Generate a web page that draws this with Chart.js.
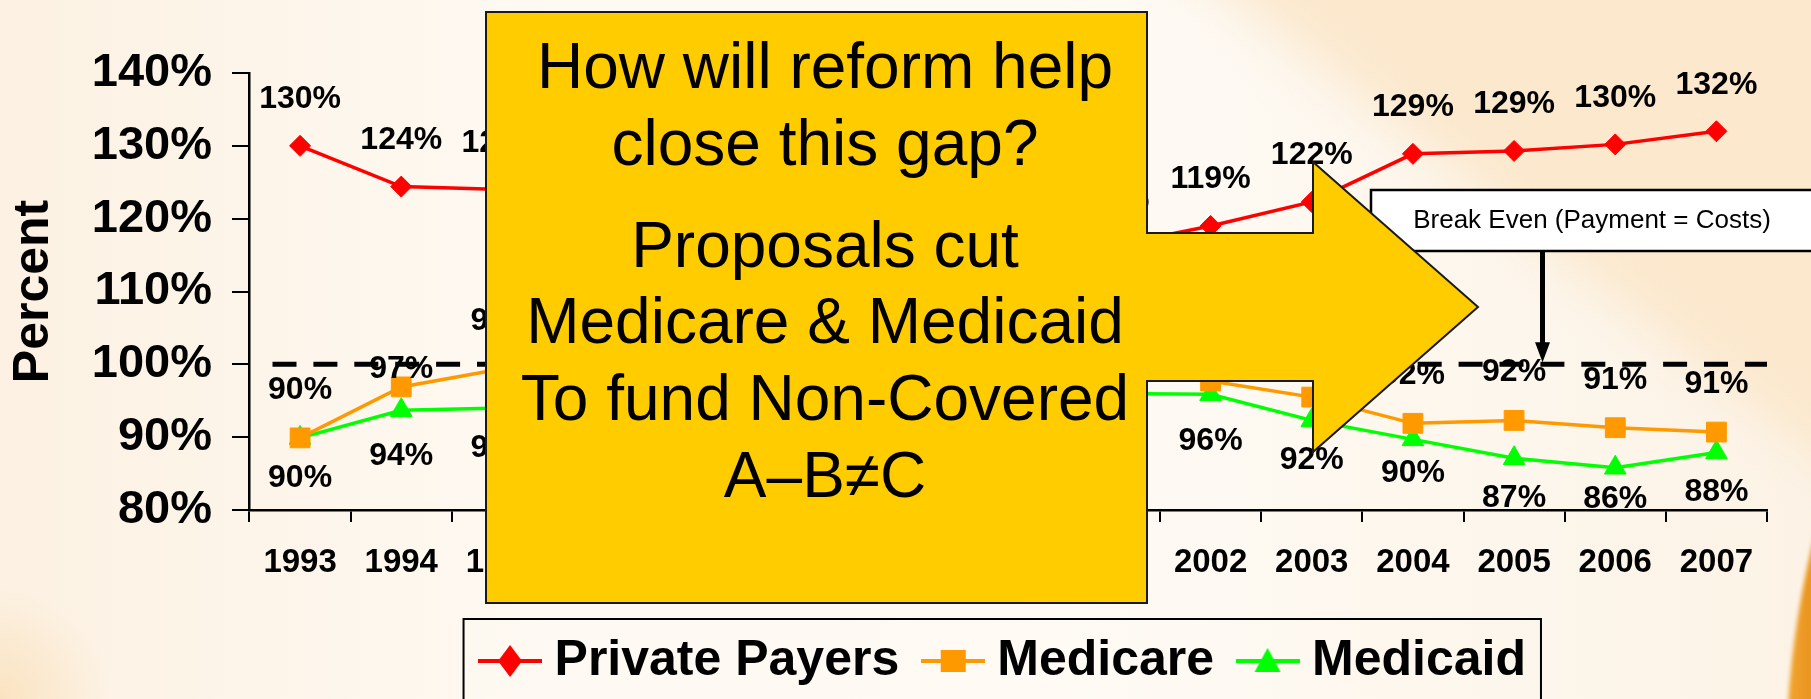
<!DOCTYPE html>
<html>
<head>
<meta charset="utf-8">
<title>Payment-to-cost ratios, 1993–2007</title>
<script src="https://cdn.jsdelivr.net/npm/chart.js@4.4.1/dist/chart.umd.min.js"></script>
<style>
  html, body { margin: 0; padding: 0; background: #fdf6ec; overflow: hidden; }
  canvas { display: block; }
</style>
</head>
<body>
<canvas id="ratios" width="1811" height="699"></canvas>
<script>
/* DATA */
const years = ['1993', '1994', '1995', '1996', '1997', '1998', '1999', '2000',
               '2001', '2002', '2003', '2004', '2005', '2006', '2007'];
const privatePayers = [130.0, 124.4, 124.0, 121.6, 117.5, 115.8, 115.0, 115.7,
                       116.2, 119.0, 122.3, 128.9, 129.3, 130.2, 132.0];
const medicare = [89.9, 96.9, 99.4, 102.4, 103.6, 101.9, 100.0, 99.1,
                  98.6, 97.7, 95.5, 91.9, 92.3, 91.3, 90.7];
const medicaid = [89.9, 93.7, 94.0, 94.8, 95.9, 96.6, 95.7, 94.5,
                  96.0, 95.9, 92.3, 89.7, 87.1, 85.8, 87.9];
const yTicks = [80, 90, 100, 110, 120, 130, 140];
const breakEven = 100;
const breakEvenNote = 'Break Even (Payment = Costs)';
const calloutLines = ['How will reform help', 'close this gap?', 'Proposals cut',
                      'Medicare & Medicaid', 'To fund Non-Covered', 'A\u2013B\u2260C'];

const FONT = '"Liberation Sans", Arial, Helvetica, sans-serif';
Chart.defaults.font.family = FONT;
Chart.defaults.color = '#000';

/* value labels: above for private/medicare, below for medicaid */
const labelOffsets = [-46.5, -48, 40];
const labelNudges = [{}, { '1994': 30 }, { '1994': 6, '2002': 7, '2004': -6, '2006': -9 }];

/* legend swatch = short line with the marker on it */
function legendIcon(color, shape) {
  const c = document.createElement('canvas');
  c.width = 64; c.height = 36;
  const g = c.getContext('2d');
  g.strokeStyle = color; g.fillStyle = color; g.lineWidth = 4;
  g.beginPath(); g.moveTo(0, 18); g.lineTo(64, 18); g.stroke();
  g.beginPath();
  if (shape === 'rectRot') { g.moveTo(32, 2); g.lineTo(44, 18); g.lineTo(32, 34); g.lineTo(20, 18); }
  else if (shape === 'rect') { g.rect(20, 7, 25, 22); }
  else { g.moveTo(32, 5); g.lineTo(45, 29); g.lineTo(19, 29); }
  g.closePath(); g.fill();
  return c;
}

/* BACKGROUND */
const backdrop = {
  id: 'backdrop',
  beforeDraw(chart) {
    const { ctx, width, height } = chart;
    ctx.save();
    const g = ctx.createLinearGradient(0, 0, width, 0);
    g.addColorStop(0, '#fcf1e2');
    g.addColorStop(0.3, '#fef9f2');
    g.addColorStop(0.6, '#fefaf4');
    g.addColorStop(1, '#fcf3e6');
    ctx.fillStyle = g;
    ctx.fillRect(0, 0, width, height);

    // peach wedge top right
    ctx.filter = 'blur(25px)';
    ctx.fillStyle = '#fbe8cd';
    ctx.beginPath();
    ctx.moveTo(1160, -60); ctx.lineTo(width + 60, -60); ctx.lineTo(width + 60, 500);
    ctx.closePath(); ctx.fill();

    // faint warm glow bottom left
    ctx.filter = 'none';
    const r = ctx.createRadialGradient(0, height, 0, 0, height, 110);
    r.addColorStop(0, 'rgba(246,200,130,0.35)');
    r.addColorStop(1, 'rgba(246,200,130,0)');
    ctx.fillStyle = r;
    ctx.fillRect(0, height - 130, 130, 130);

    // orange swoosh on the right edge
    ctx.filter = 'blur(2px)';
    const o = ctx.createLinearGradient(1780, 0, width, 0);
    o.addColorStop(0, '#f4a934');
    o.addColorStop(1, '#e99520');
    ctx.fillStyle = o;
    ctx.beginPath();
    ctx.moveTo(width + 5, 530);
    ctx.quadraticCurveTo(1794, 615, 1788, height + 5);
    ctx.lineTo(width + 5, height + 5);
    ctx.closePath(); ctx.fill();
    ctx.restore();
  }
};

/* DASHED BREAK-EVEN LINE */
const breakEvenLine = {
  id: 'breakEvenLine',
  beforeDatasetsDraw(chart) {
    const { ctx, chartArea } = chart;
    const y = chart.scales.y.getPixelForValue(breakEven);
    ctx.save();
    ctx.beginPath();
    ctx.rect(chartArea.left, 0, chartArea.right - chartArea.left, chart.height);
    ctx.clip();
    ctx.strokeStyle = '#000';
    ctx.lineWidth = 5;
    ctx.setLineDash([24, 16.9]);
    ctx.beginPath();
    ctx.moveTo(chartArea.left + 23, y);
    ctx.lineTo(chartArea.right + 10, y);
    ctx.stroke();
    ctx.restore();
  }
};

/* VALUE LABELS */
const valueLabels = {
  id: 'valueLabels',
  afterDatasetsDraw(chart) {
    const { ctx } = chart;
    ctx.save();
    ctx.font = 'bold 32px ' + FONT;
    ctx.fillStyle = '#000';
    ctx.textAlign = 'center';
    ctx.textBaseline = 'middle';
    chart.data.datasets.forEach((ds, i) => {
      chart.getDatasetMeta(i).data.forEach((pt, j) => {
        const nudge = labelNudges[i][years[j]] || 0;
        ctx.fillText(Math.round(ds.data[j]) + '%', pt.x, pt.y + labelOffsets[i] + nudge);
      });
    });
    ctx.restore();
  }
};

/* CALLOUT, NOTE BOX, LEGEND FRAME */
const overlays = {
  id: 'overlays',
  afterDraw(chart) {
    const { ctx } = chart;
    ctx.save();

    // frame round the legend
    const hb = chart.legend.legendHitBoxes;
    if (hb && hb.length) {
      const last = hb[hb.length - 1];
      const left = hb[0].left - 27, top = hb[0].top - 17;
      const right = last.left + last.width + 15;
      ctx.lineWidth = 2; ctx.strokeStyle = '#000';
      ctx.strokeRect(left, top, right - left, chart.height + 20 - top);
    }

    // break-even note with arrow down to the dashed line
    const y100 = chart.scales.y.getPixelForValue(breakEven);
    ctx.fillStyle = '#fff';
    ctx.fillRect(1371, 190, 460, 61);
    ctx.lineWidth = 2.5; ctx.strokeStyle = '#000';
    ctx.strokeRect(1371, 190, 460, 61);
    ctx.fillStyle = '#000';
    ctx.font = '26px ' + FONT;
    ctx.textAlign = 'center'; ctx.textBaseline = 'middle';
    ctx.fillText(breakEvenNote, 1592, 221);
    ctx.lineWidth = 5;
    ctx.beginPath(); ctx.moveTo(1542.5, 251); ctx.lineTo(1542.5, y100 - 20); ctx.stroke();
    ctx.beginPath();
    ctx.moveTo(1535, y100 - 22); ctx.lineTo(1550, y100 - 22); ctx.lineTo(1542.5, y100 - 2);
    ctx.closePath(); ctx.fill();

    // yellow right-arrow callout
    const L = 486, T = 12, R = 1147, B = 603;
    ctx.beginPath();
    ctx.moveTo(L, T); ctx.lineTo(R, T); ctx.lineTo(R, 233);
    ctx.lineTo(1313, 233); ctx.lineTo(1313, 162); ctx.lineTo(1478, 307);
    ctx.lineTo(1313, 452); ctx.lineTo(1313, 381); ctx.lineTo(R, 381);
    ctx.lineTo(R, B); ctx.lineTo(L, B); ctx.closePath();
    ctx.fillStyle = '#ffcc00'; ctx.fill();
    ctx.lineWidth = 2; ctx.strokeStyle = '#1a1a1a'; ctx.stroke();

    ctx.fillStyle = '#000';
    ctx.font = '64px ' + FONT;
    ctx.textAlign = 'center'; ctx.textBaseline = 'alphabetic';
    const baselines = [88, 165, 267, 343, 420, 497];
    calloutLines.forEach((t, k) => ctx.fillText(t, 825, baselines[k]));
    ctx.restore();
  }
};

/* CHART */
new Chart(document.getElementById('ratios'), {
  type: 'line',
  data: {
    labels: years,
    datasets: [
      { label: 'Private Payers', data: privatePayers, borderColor: '#ff0000', backgroundColor: '#ff0000',
        pointStyle: 'rectRot', pointRadius: 10.5, borderWidth: 3.5, pointBorderWidth: 1, icon: legendIcon('#ff0000', 'rectRot') },
      { label: 'Medicare', data: medicare, borderColor: '#ff9900', backgroundColor: '#ff9900',
        pointStyle: 'rect', pointRadius: 14, borderWidth: 3.5, pointBorderWidth: 1, icon: legendIcon('#ff9900', 'rect') },
      { label: 'Medicaid', data: medicaid, borderColor: '#00ff00', backgroundColor: '#00ff00',
        pointStyle: 'triangle', pointRadius: 12.5, borderWidth: 3.5, pointBorderWidth: 1, icon: legendIcon('#00ff00', 'triangle') }
    ]
  },
  options: {
    responsive: false,
    animation: false,
    devicePixelRatio: 1,
    layout: { padding: { left: 0, top: 73, right: 44, bottom: 3 } },
    plugins: {
      tooltip: { enabled: false },
      legend: {
        position: 'bottom',
        fullSize: false,
        labels: {
          usePointStyle: true,
          pointStyleWidth: 39,
          padding: 34,
          color: '#000',
          font: { size: 50, weight: 'bold' },
          generateLabels: chart => chart.data.datasets.map((ds, i) => ({
            text: ds.label, pointStyle: ds.icon, fillStyle: ds.borderColor,
            strokeStyle: ds.borderColor, lineWidth: 0, hidden: false, datasetIndex: i
          }))
        }
      }
    },
    scales: {
      x: {
        offset: true,
        grid: { offset: true, drawOnChartArea: false, tickLength: 12, color: '#000', lineWidth: 2 },
        border: { color: '#000', width: 2.5 },
        ticks: { font: { size: 33, weight: 'bold' }, color: '#000', padding: 21.5, maxRotation: 0, autoSkip: false },
        afterFit: s => { s.height = 92; }
      },
      y: {
        min: 80, max: 140,
        afterBuildTicks: s => { s.ticks = yTicks.map(v => ({ value: v })); },
        grid: { drawOnChartArea: false, tickLength: 17.5, color: '#000', lineWidth: 2 },
        border: { color: '#000', width: 2.5 },
        ticks: { font: { size: 47, weight: 'bold' }, color: '#000', padding: 20, callback: v => v + '%' },
        title: { display: true, text: 'Percent', font: { size: 50, weight: 'bold' }, color: '#000', padding: { top: 4.5, bottom: 0 } },
        afterFit: s => { s.width = 249.5; }
      }
    }
  },
  plugins: [backdrop, breakEvenLine, valueLabels, overlays]
});
</script>
</body>
</html>
